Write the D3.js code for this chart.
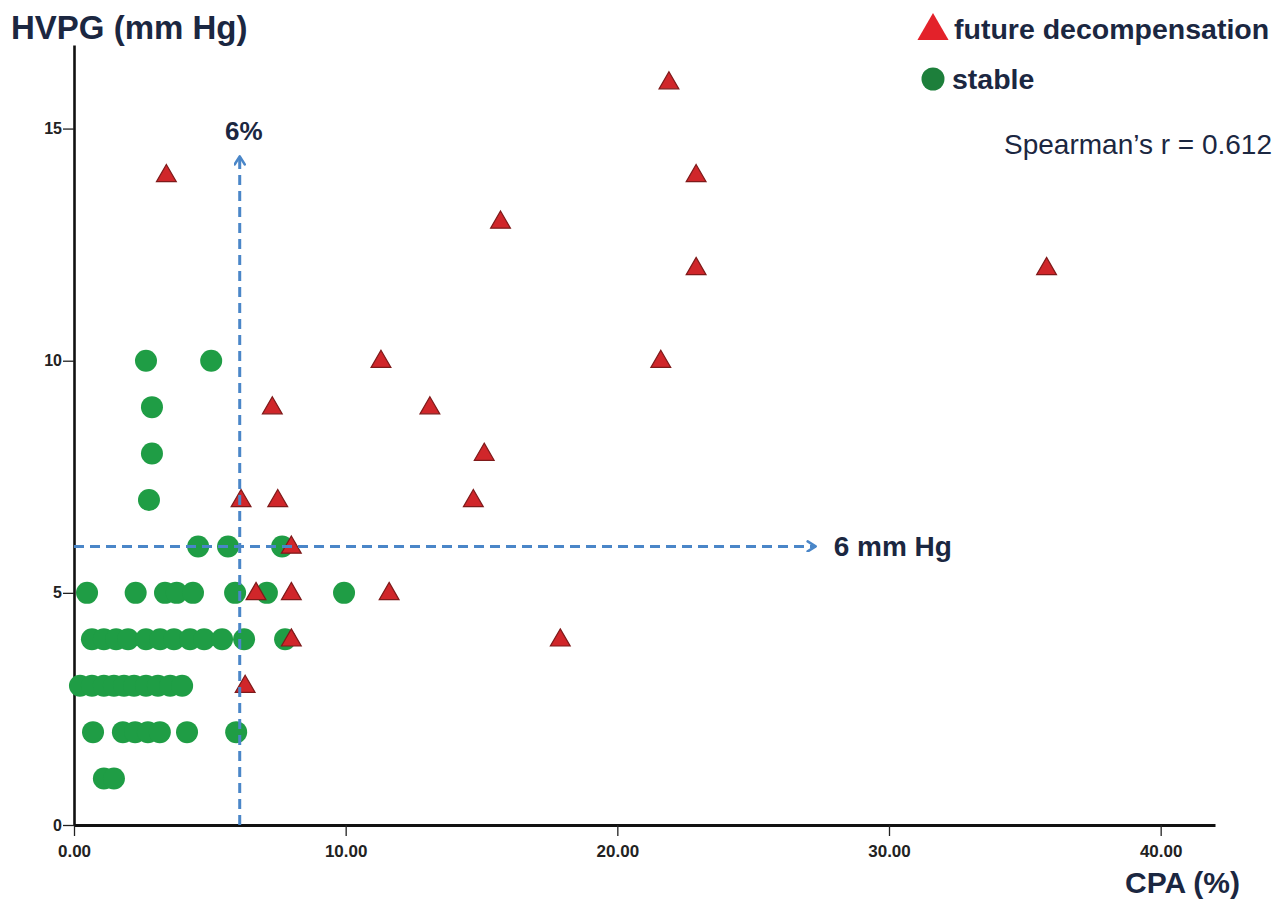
<!DOCTYPE html>
<html>
<head>
<meta charset="utf-8">
<script src="https://cdn.jsdelivr.net/npm/d3@7"></script>
<style>
  html, body { margin: 0; padding: 0; background: #fff; }
  svg { display: block; }
</style>
</head>
<body>
<svg id="chart" width="1285" height="900"></svg>
<script>
// ---- data ----
const decompX = [3.4, 21.9, 22.9, 15.7, 22.9, 35.8, 11.3, 21.6, 7.3, 13.1, 15.1, 6.15, 7.5, 14.7, 8.0, 6.7, 8.0, 11.6, 8.0, 17.9, 6.3];
const decompY = [14, 16, 14, 13, 12, 12, 10, 10, 9, 9, 8, 7, 7, 7, 6, 5, 5, 5, 4, 4, 3];

const stableX = [2.65, 5.05,
                 2.87, 2.87, 2.76,
                 4.57, 5.67, 7.66,
                 0.48, 2.27, 3.35, 3.78, 4.38, 5.93, 7.1, 9.94,
                 0.66, 1.1, 1.55, 1.99, 2.65, 3.17, 3.68, 4.27, 4.79, 5.45, 6.26, 7.77,
                 0.22, 0.66, 1.1, 1.47, 1.84, 2.21, 2.65, 3.09, 3.54, 3.98,
                 0.7, 1.8, 2.25, 2.72, 3.16, 4.16, 5.97,
                 1.1, 1.47];
const stableY = [10, 10,
                 9, 8, 7,
                 6, 6, 6,
                 5, 5, 5, 5, 5, 5, 5, 5,
                 4, 4, 4, 4, 4, 4, 4, 4, 4, 4, 4, 4,
                 3, 3, 3, 3, 3, 3, 3, 3, 3, 3,
                 2, 2, 2, 2, 2, 2, 2,
                 1, 1];

const xTicks = [0, 10, 20, 30, 40];
const yTicks = [0, 5, 10, 15];
const cpaCut = 6.1;      // vertical reference (%)
const hvpgCut = 6;       // horizontal reference (mm Hg)
const vArrowTop = 14.4;  // where vertical arrow ends (mm Hg)
const hArrowEnd = 27.3;  // where horizontal arrow ends (%)

// ---- layout ----
const svg = d3.select("#chart");
const x = d3.scaleLinear().domain([0, 42.0]).range([74, 1215]);
const y = d3.scaleLinear().domain([0, 16.8]).range([825, 45]);
const navy = "#1b2741";
const blue = "#4a86c8";
const narrow = "'Liberation Sans Narrow', 'Arial Narrow', 'Liberation Sans', Arial, sans-serif";
const sans = "'Liberation Sans', Arial, sans-serif";

// axes
const xAxis = d3.axisBottom(x).tickValues(xTicks).tickFormat(d3.format(".2f")).tickSize(11).tickSizeOuter(0);
const gx = svg.append("g").attr("transform", "translate(0,825)").call(xAxis);
gx.select(".domain").attr("stroke", "#111").attr("stroke-width", 3.2);
gx.selectAll(".tick line").attr("stroke", "#222").attr("stroke-width", 1.3);
gx.selectAll(".tick text")
  .attr("font-family", narrow)
  .attr("font-weight", "bold").attr("font-size", 17).attr("fill", "#222").attr("dy", "1.05em");

const yAxis = d3.axisLeft(y).tickValues(yTicks).tickSize(11).tickSizeOuter(0);
const gy = svg.append("g").attr("transform", "translate(74,0)").call(yAxis);
gy.select(".domain").attr("stroke", "#111").attr("stroke-width", 2.6);
gy.selectAll(".tick line").attr("stroke", "#222").attr("stroke-width", 1.3);
gy.selectAll(".tick text")
  .attr("font-family", narrow)
  .attr("font-weight", "bold").attr("font-size", 16).attr("fill", "#222").attr("x", -12);

// stable circles
const stable = stableX.map((v, i) => ({ x: v, y: stableY[i] }));
svg.append("g").selectAll("circle").data(stable).join("circle")
  .attr("cx", d => x(d.x)).attr("cy", d => y(d.y)).attr("r", 11)
  .attr("fill", "#1f9d45");

// decompensation triangles
const decomp = decompX.map((v, i) => ({ x: v, y: decompY[i] }));
const tri = d3.symbol().type(d3.symbolTriangle).size(170);
svg.append("g").selectAll("path").data(decomp).join("path")
  .attr("d", tri)
  .attr("transform", d => `translate(${x(d.x)},${y(d.y) + 1})`)
  .attr("fill", "#d0262a").attr("stroke", "#7e1a1a").attr("stroke-width", 1.2);

// reference arrows
const defs = svg.append("defs");
defs.append("marker").attr("id", "chev").attr("viewBox", "0 0 12 12")
  .attr("refX", 10).attr("refY", 6).attr("markerWidth", 12).attr("markerHeight", 12)
  .attr("markerUnits", "userSpaceOnUse").attr("orient", "auto")
  .append("path").attr("d", "M2,1 L10,6 L2,11").attr("fill", "none")
  .attr("stroke", blue).attr("stroke-width", 2.6).attr("stroke-linecap", "round").attr("stroke-linejoin", "round");

svg.append("line")
  .attr("x1", x(cpaCut)).attr("x2", x(cpaCut)).attr("y1", y(0)).attr("y2", y(vArrowTop))
  .attr("stroke", blue).attr("stroke-width", 3).attr("stroke-dasharray", "10,6")
  .attr("marker-end", "url(#chev)");
svg.append("line")
  .attr("x1", x(0)).attr("x2", x(hArrowEnd)).attr("y1", y(hvpgCut)).attr("y2", y(hvpgCut))
  .attr("stroke", blue).attr("stroke-width", 3).attr("stroke-dasharray", "10,6")
  .attr("marker-end", "url(#chev)");

svg.append("text").attr("x", x(cpaCut) + 4).attr("y", y(vArrowTop) - 16)
  .attr("text-anchor", "middle").attr("font-family", sans).attr("font-weight", "bold")
  .attr("font-size", 26).attr("fill", navy).text("6%");
svg.append("text").attr("x", x(hArrowEnd) + 18).attr("y", y(hvpgCut) + 10)
  .attr("font-family", sans).attr("font-weight", "bold")
  .attr("font-size", 28).attr("fill", navy).text("6 mm Hg");

// axis titles
svg.append("text").attr("x", 11).attr("y", 39)
  .attr("font-family", sans).attr("font-weight", "bold").attr("font-size", 33)
  .attr("fill", navy).text("HVPG (mm Hg)");
svg.append("text").attr("x", 1240).attr("y", 893).attr("text-anchor", "end")
  .attr("font-family", sans).attr("font-weight", "bold").attr("font-size", 30)
  .attr("fill", navy).text("CPA (%)");

// legend
svg.append("path").attr("d", d3.symbol().type(d3.symbolTriangle).size(420))
  .attr("transform", "translate(933,31)").attr("fill", "#e3222a");
svg.append("text").attr("x", 954).attr("y", 39)
  .attr("font-family", sans).attr("font-weight", "bold").attr("font-size", 28.5)
  .attr("fill", navy).text("future decompensation");
svg.append("circle").attr("cx", 933).attr("cy", 79).attr("r", 11.5).attr("fill", "#1d7f3b");
svg.append("text").attr("x", 952).attr("y", 89)
  .attr("font-family", sans).attr("font-weight", "bold").attr("font-size", 28.5)
  .attr("fill", navy).text("stable");

svg.append("text").attr("x", 1272).attr("y", 154).attr("text-anchor", "end")
  .attr("font-family", sans).attr("font-size", 28)
  .attr("fill", navy).text("Spearman\u2019s r = 0.612");
</script>
</body>
</html>
